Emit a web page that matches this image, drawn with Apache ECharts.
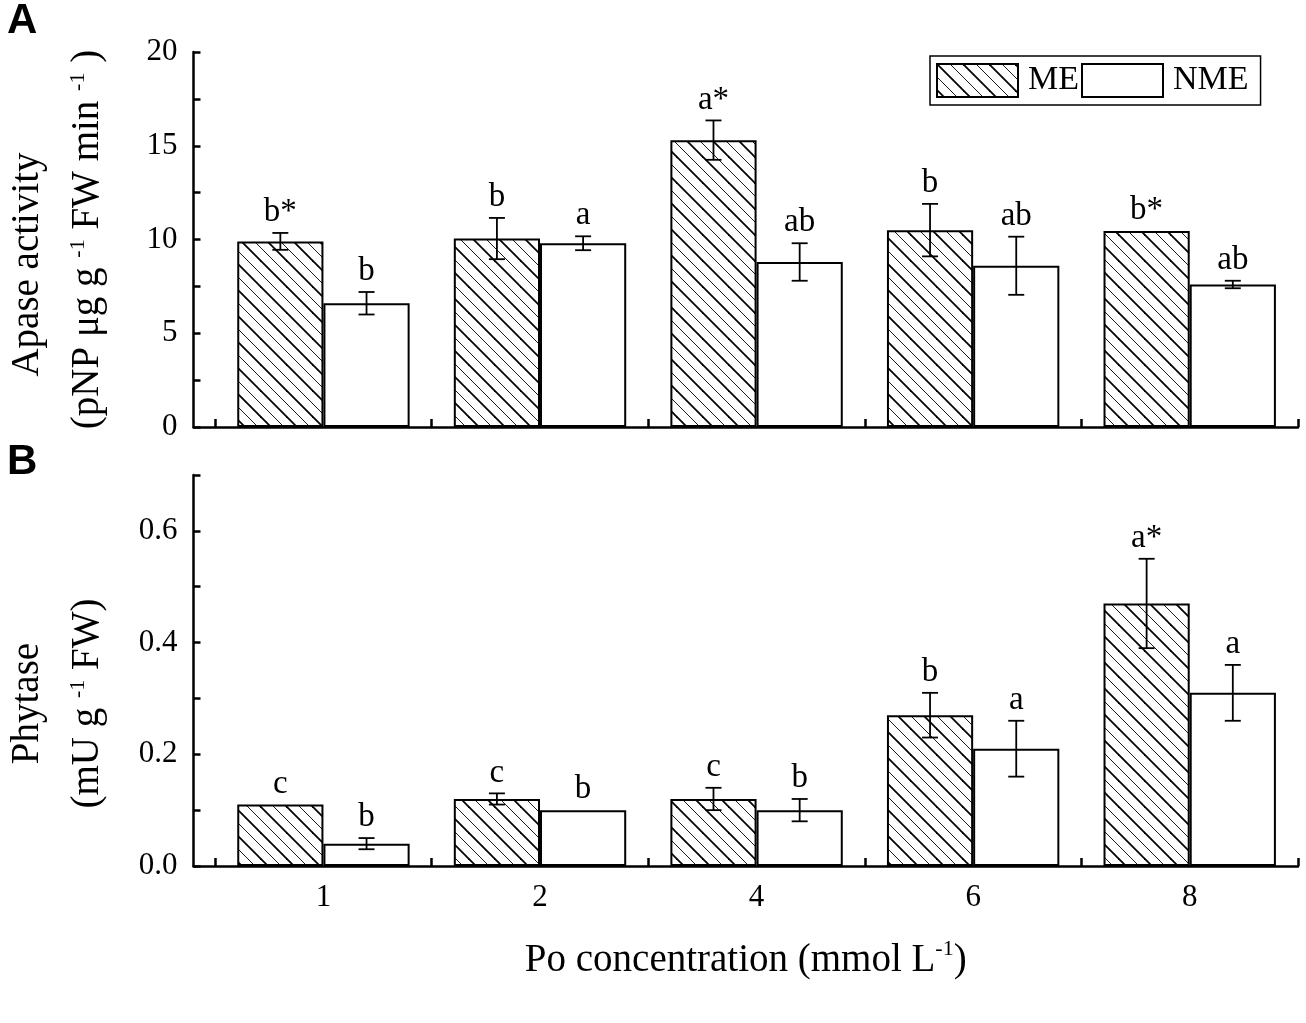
<!DOCTYPE html>
<html><head><meta charset="utf-8">
<script src="https://cdn.jsdelivr.net/npm/echarts@6/dist/echarts.min.js"></script>
<style>html,body{margin:0;padding:0;background:#fff}#c{width:1306px;height:1023px}</style>
</head><body><div id="c"></div>
<script>
const categories = ['1', '2', '4', '6', '8'];
const apaseME = [9.9, 10.05, 15.3, 10.5, 10.45];
const apaseMEsd = [0.45, 1.1, 1.05, 1.4, 0];
const apaseNME = [6.6, 9.8, 8.8, 8.6, 7.6];
const apaseNMEsd = [0.6, 0.37, 1.0, 1.55, 0.2];
const apaseMEsig = ['b*', 'b', 'a*', 'b', 'b*'];
const apaseNMEsig = ['b', 'a', 'ab', 'ab', 'ab'];
const phytaseME = [0.11, 0.12, 0.12, 0.27, 0.47];
const phytaseMEsd = [0, 0.01, 0.02, 0.04, 0.08];
const phytaseNME = [0.04, 0.10, 0.10, 0.21, 0.31];
const phytaseNMEsd = [0.01, 0, 0.02, 0.05, 0.05];
const phytaseMEsig = ['c', 'c', 'c', 'b', 'a*'];
const phytaseNMEsig = ['b', 'b', 'b', 'a', 'a'];
const apaseTicks = [0, 5, 10, 15, 20];
const phytaseTicks = [0, 0.2, 0.4, 0.6];

const FONT = '"Liberation Serif", "Times New Roman", serif';
const BAR_FRAC = 0.398;

function hatch() {
  const s = 26;
  const c = document.createElement('canvas');
  c.width = s; c.height = s;
  const g = c.getContext('2d');
  g.fillStyle = '#fff'; g.fillRect(0, 0, s, s);
  g.strokeStyle = '#000';
  const lines = [[0, 1.8], [s, 1.8], [-s, 1.8], [s / 2, 0.9], [-s / 2, 0.9]];
  for (const [off, w] of lines) {
    g.lineWidth = w;
    g.beginPath(); g.moveTo(-3, -3 + off); g.lineTo(s + 3, s + 3 + off); g.stroke();
  }
  return c;
}
const hatchColor = { image: hatch(), repeat: 'repeat' };

const xPos = categories.map((_, i) => i + 1);
const tickPos = categories.map((_, i) => i + 0.5).concat([categories.length + 0.5]);

const chart = echarts.init(document.getElementById('c'), null, { renderer: 'canvas' });

function xAxis(gi, showLabels, name) {
  return {
    type: 'value', gridIndex: gi, min: 0.4, max: categories.length + 0.5,
    axisLine: { onZero: false, lineStyle: { color: '#000', width: 2.5 } },
    axisTick: { inside: true, length: 8, customValues: tickPos, lineStyle: { color: '#000', width: 2.5 } },
    axisLabel: { show: showLabels, customValues: xPos, formatter: v => categories[Math.round(v) - 1],
      fontSize: 31, fontFamily: FONT, color: '#000', margin: 16 },
    splitLine: { show: false },
    name: name || '', nameLocation: 'middle', nameGap: 72,
    nameTextStyle: { fontFamily: FONT, fontSize: 39, color: '#000',
      rich: { t: { fontFamily: FONT, fontSize: 39, color: '#000', lineHeight: 46 },
              s: { fontFamily: FONT, fontSize: 22, color: '#000', verticalAlign: 'top', lineHeight: 22 } } }
  };
}
function yAxis(gi, max, interval, ticks, fmt, name, shift1, shift2) {
  return {
    type: 'value', gridIndex: gi, min: 0, max: max, interval: interval,
    axisLine: { show: true, lineStyle: { color: '#000', width: 2.5 } },
    axisTick: { show: true, inside: true, length: 7, lineStyle: { color: '#000', width: 2.5 } },
    axisLabel: { customValues: ticks, formatter: fmt, fontSize: 31, fontFamily: FONT, color: '#000', margin: 16 },
    splitLine: { show: false },
    name: name, nameLocation: 'middle', nameRotate: 90, nameGap: 76,
    nameTextStyle: { fontFamily: FONT, fontSize: 39, color: '#000', align: 'center',
      rich: { t: { fontFamily: FONT, fontSize: 39, color: '#000', lineHeight: 60 },
              a: { fontFamily: FONT, fontSize: 39, color: '#000', lineHeight: 60, padding: [0, shift1, 0, 0] },
              b: { fontFamily: FONT, fontSize: 39, color: '#000', lineHeight: 60, padding: [0, shift2, 0, 0] },
              s: { fontFamily: FONT, fontSize: 22, color: '#000', verticalAlign: 'top', lineHeight: 22, padding: [10, 0, 0, 0] } } }
  };
}

function barSeries(name, gi, vals, color) {
  return {
    type: 'bar', name: name, xAxisIndex: gi, yAxisIndex: gi,
    data: vals.map((v, i) => [xPos[i], v]),
    barWidth: (BAR_FRAC * 100) + '%', barGap: '0%',
    itemStyle: { color: color, borderColor: '#000', borderWidth: 2 },
    z: 2
  };
}

function errSeries(gi, me, meSd, meSig, nme, nmeSd, nmeSig) {
  const items = [];
  categories.forEach((_, i) => {
    items.push({ x: xPos[i], m: me[i], sd: meSd[i], side: 0, sig: meSig[i] });
    items.push({ x: xPos[i], m: nme[i], sd: nmeSd[i], side: 1, sig: nmeSig[i] });
  });
  return {
    type: 'custom', xAxisIndex: gi, yAxisIndex: gi, z: 5, clip: false, silent: true,
    data: items.map(d => [d.x, d.m]),
    encode: { x: 0, y: 1 },
    renderItem: function (params, api) {
      const d = items[params.dataIndex];
      const band = api.size([1, 0])[0];
      const half = band * BAR_FRAC / 2;
      const cx = api.coord([d.x, d.m])[0] + (d.side === 0 ? -half : half);
      const yTop = api.coord([d.x, d.m + d.sd])[1];
      const yBot = api.coord([d.x, d.m - d.sd])[1];
      const cap = 8;
      const st = { stroke: '#000', lineWidth: 1.8 };
      const ch = [];
      if (d.sd > 0) {
        ch.push({ type: 'line', shape: { x1: cx, y1: yTop, x2: cx, y2: yBot }, style: st });
        ch.push({ type: 'line', shape: { x1: cx - cap, y1: yTop, x2: cx + cap, y2: yTop }, style: st });
        ch.push({ type: 'line', shape: { x1: cx - cap, y1: yBot, x2: cx + cap, y2: yBot }, style: st });
      }
      ch.push({ type: 'text', style: { text: d.sig, x: cx, y: yTop - 4, align: 'center', verticalAlign: 'bottom',
        font: '33px ' + FONT, fill: '#000' } });
      return { type: 'group', children: ch };
    }
  };
}

chart.setOption({
  animation: false,
  backgroundColor: '#fff',
  grid: [
    { left: 191, right: 8, top: 52, height: 375 },
    { left: 191, right: 8, top: 475, height: 391 }
  ],
  legend: {
    data: ['ME', 'NME'], left: 930, top: 56, icon: 'rect', itemWidth: 81, itemHeight: 33, itemGap: 2,
    padding: [7, 12, 7, 6], borderColor: '#000', borderWidth: 1.5, selectedMode: false,
    textStyle: { fontFamily: FONT, fontSize: 34, color: '#000', padding: [0, 0, 0, 5] }
  },
  xAxis: [xAxis(0, false), xAxis(1, true, '{t|Po concentration (mmol L}{s|-1}{t|)}')],
  yAxis: [
    yAxis(0, 20, 2.5, apaseTicks, v => String(v),
      '{a|Apase activity}\n{t|(pNP μg g }{s|-1}{t| FW min }{s|-1}{t| )}', 50, 0),
    yAxis(1, 0.7, 0.1, phytaseTicks, v => Number(v).toFixed(1),
      '{a|Phytase}\n{t|(mU g }{s|-1}{b| FW)}', 66, 66)
  ],
  graphic: [
    { type: 'text', left: 7, top: 0, style: { text: 'A', font: 'bold 42px "Liberation Sans", Arial, sans-serif', fill: '#000' } },
    { type: 'text', left: 7, top: 441, style: { text: 'B', font: 'bold 42px "Liberation Sans", Arial, sans-serif', fill: '#000' } }
  ],
  series: [
    barSeries('ME', 0, apaseME, hatchColor),
    barSeries('NME', 0, apaseNME, '#fff'),
    errSeries(0, apaseME, apaseMEsd, apaseMEsig, apaseNME, apaseNMEsd, apaseNMEsig),
    barSeries('ME', 1, phytaseME, hatchColor),
    barSeries('NME', 1, phytaseNME, '#fff'),
    errSeries(1, phytaseME, phytaseMEsd, phytaseMEsig, phytaseNME, phytaseNMEsd, phytaseNMEsig)
  ]
});
</script>
</body></html>
